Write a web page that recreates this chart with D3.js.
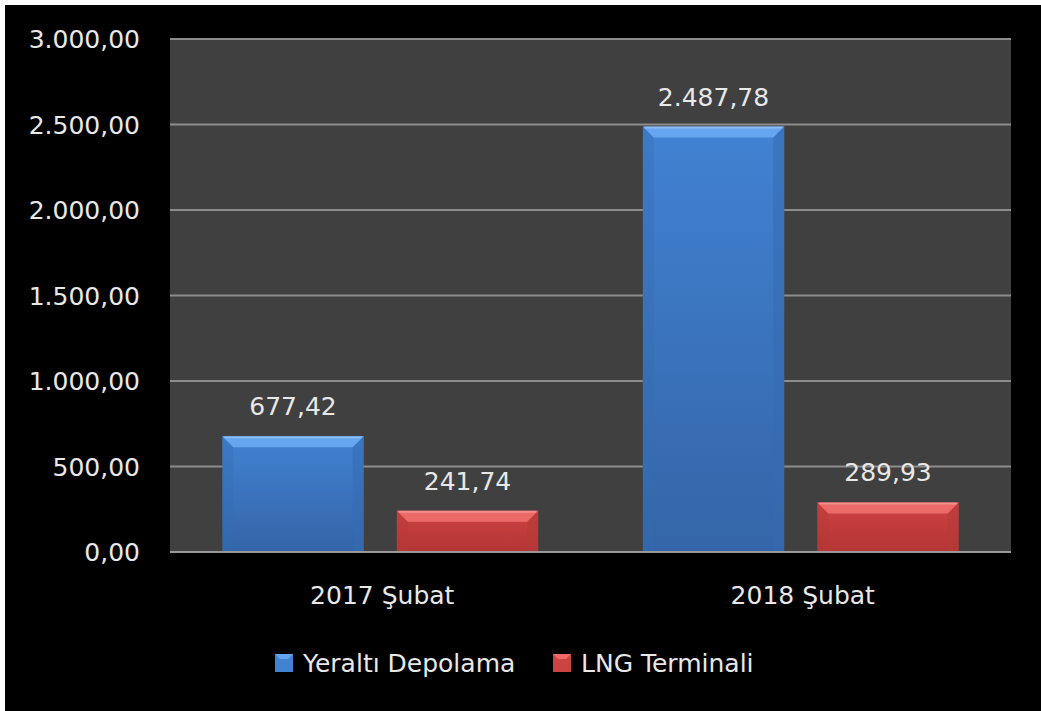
<!DOCTYPE html>
<html>
<head>
<meta charset="utf-8">
<title>Yeraltı Depolama / LNG Terminali</title>
<script src="https://unpkg.com/d3@7/dist/d3.min.js"></script>
<style>
  html, body { margin: 0; padding: 0; background: #fff; }
  svg { display: block; }
  text { font-family: "DejaVu Sans", Verdana, sans-serif; fill: #e8e8e8; }
</style>
</head>
<body>
<svg width="1041" height="711"></svg>
<script>
// data
const categories = ['2017 Şubat', '2018 Şubat'];
const seriesNames = ['Yeraltı Depolama', 'LNG Terminali'];
const yeraltiValues = [677.42, 2487.78];
const lngValues = [241.74, 289.93];
const yTicks = [0, 500, 1000, 1500, 2000, 2500, 3000];

const seriesColors = {
  'Yeraltı Depolama': { top: '#66a6f0', main: '#4182d2', bottom: '#3465a8', side: '#356cb3' },
  'LNG Terminali':   { top: '#ec6a68', main: '#cd4342', bottom: '#b53535', side: '#b43a39' }
};

const rows = categories.map((c, i) => ({
  category: c,
  values: [
    { series: seriesNames[0], value: yeraltiValues[i] },
    { series: seriesNames[1], value: lngValues[i] }
  ]
}));

const fmt = v => {
  const s = v.toFixed(2).split('.');
  return s[0].replace(/\B(?=(\d{3})+(?!\d))/g, '.') + ',' + s[1];
};

const svg = d3.select('svg');
const W = 1041, H = 711;
const plot = { left: 170, right: 1011, top: 39, bottom: 552 };

// black canvas with thin white edge at top/left
svg.append('rect').attr('x', 5).attr('y', 5).attr('width', W - 5).attr('height', H - 5).attr('fill', '#000');

const x0 = d3.scaleBand().domain(categories).range([plot.left, plot.right]);
const x1 = d3.scaleBand().domain(seriesNames).range([0, x0.bandwidth()])
  .paddingInner(0.19).paddingOuter(0.3);
const y = d3.scaleLinear().domain([0, 3000]).range([plot.bottom, plot.top]);

svg.append('rect')
  .attr('x', plot.left).attr('y', plot.top)
  .attr('width', plot.right - plot.left).attr('height', plot.bottom - plot.top)
  .attr('fill', '#404040');

// gridlines
svg.append('g').selectAll('line').data(yTicks).join('line')
  .attr('x1', plot.left).attr('x2', plot.right)
  .attr('y1', d => y(d)).attr('y2', d => y(d))
  .attr('stroke', d => d === 0 ? '#9a9a9a' : '#8c8c8c')
  .attr('stroke-width', 2);

// y axis labels
svg.append('g').selectAll('text').data(yTicks).join('text')
  .attr('x', 140).attr('y', d => y(d) + 2)
  .attr('text-anchor', 'end').attr('dominant-baseline', 'middle')
  .attr('font-size', 25)
  .text(fmt);

// gradients
const defs = svg.append('defs');
seriesNames.forEach((s, i) => {
  const c = seriesColors[s];
  const g = defs.append('linearGradient').attr('id', 'grad' + i)
    .attr('x1', 0).attr('y1', 0).attr('x2', 0).attr('y2', 1);
  g.append('stop').attr('offset', '0%').attr('stop-color', c.main);
  g.append('stop').attr('offset', '100%').attr('stop-color', c.bottom);
});

// bars with bevel
const bev = 11;
const groups = svg.append('g').selectAll('g').data(rows).join('g')
  .attr('transform', d => `translate(${x0(d.category)},0)`);

const bars = groups.selectAll('g.bar').data(d => d.values).join('g').attr('class', 'bar');

bars.each(function (d) {
  const g = d3.select(this);
  const i = seriesNames.indexOf(d.series);
  const c = seriesColors[d.series];
  const bx = x1(d.series), bw = x1.bandwidth();
  const top = y(d.value), bottom = y(0) - 1;
  g.append('rect').attr('x', bx).attr('y', top).attr('width', bw).attr('height', bottom - top)
    .attr('fill', `url(#grad${i})`);
  // left and right side bevels
  g.append('path')
    .attr('d', `M${bx},${top} L${bx + bev},${top + bev} L${bx + bev},${bottom} L${bx},${bottom} Z`)
    .attr('fill', c.side).attr('opacity', 0.35);
  g.append('path')
    .attr('d', `M${bx + bw},${top} L${bx + bw - bev},${top + bev} L${bx + bw - bev},${bottom} L${bx + bw},${bottom} Z`)
    .attr('fill', c.side).attr('opacity', 0.55);
  // top bevel
  g.append('path')
    .attr('d', `M${bx},${top} L${bx + bw},${top} L${bx + bw - bev},${top + bev} L${bx + bev},${top + bev} Z`)
    .attr('fill', c.top);
  g.append('line')
    .attr('x1', bx + 2).attr('x2', bx + bw - 2).attr('y1', top + 1).attr('y2', top + 1)
    .attr('stroke', '#ffffff').attr('stroke-opacity', 0.25).attr('stroke-width', 2);
});

// value labels
bars.append('text')
  .attr('x', d => x1(d.series) + x1.bandwidth() / 2)
  .attr('y', d => y(d.value) - 21)
  .attr('text-anchor', 'middle')
  .attr('font-size', 25)
  .text(d => fmt(d.value));

// category labels
svg.append('g').selectAll('text').data(categories).join('text')
  .attr('x', d => x0(d) + x0.bandwidth() / 2 + 2)
  .attr('y', 604)
  .attr('text-anchor', 'middle')
  .attr('font-size', 25)
  .text(d => d);

// legend
const legendX = [275, 553];
const legend = svg.append('g').selectAll('g').data(seriesNames).join('g')
  .attr('transform', (d, i) => `translate(${legendX[i]},654)`);
legend.append('rect').attr('width', 18).attr('height', 18)
  .attr('fill', d => seriesColors[d].main);
legend.append('path').attr('d', 'M0,0 L18,0 L13,5 L5,5 Z')
  .attr('fill', d => seriesColors[d].top);
legend.append('text').attr('x', 28).attr('y', 18)
  .attr('font-size', 25)
  .text(d => d);
</script>
</body>
</html>
